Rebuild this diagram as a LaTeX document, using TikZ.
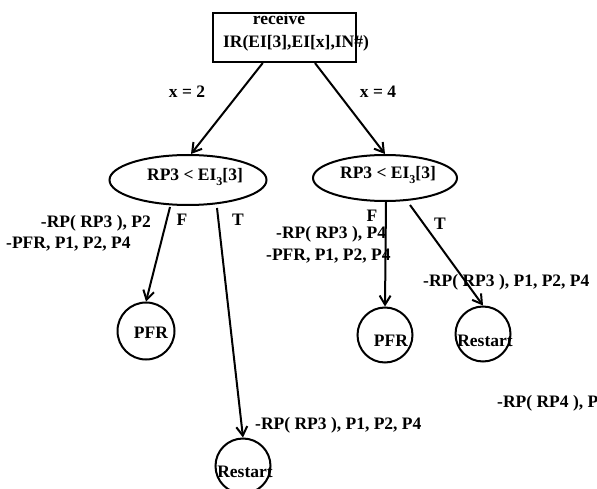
\documentclass[tikz,border=0pt]{standalone}
\usepackage{fontspec}
\setmainfont{Liberation Serif}
\usetikzlibrary{arrows.meta,shapes.geometric,calc}
\newcommand{\subthree}{\raisebox{-5pt}{\fontsize{12}{12}\selectfont 3}}
\begin{document}
\begin{tikzpicture}[x=1pt,y=-1pt,
  txt/.style={font=\fontsize{17.5}{20}\selectfont\bfseries, inner sep=0pt},
  cond/.style={draw, ellipse, line width=2pt, inner sep=0pt},
  leaf/.style={draw, circle, line width=2pt, inner sep=0pt, minimum size=57pt},
  arc/.style={line width=2pt, -{Straight Barb[length=9pt,width=11pt,line width=2pt]}},
]
\useasboundingbox (0,0) rectangle (597,489);

% receiving box
\node[draw, line width=2pt, minimum width=143pt, minimum height=49pt, inner sep=0pt] (recv) at (284.5,37.5) {};
\node[txt] (recvA) at (279,19) {receive};
\node[txt] (recvB) at (296,43) {IR(EI[3],EI[x],IN\#)};

% decision ellipses
\node[cond, minimum width=157pt, minimum height=50pt] (condL) at (188,180) {};
\node[txt] (condLtxt) at (195,177) {RP3 < EI\subthree[3]};
\node[cond, minimum width=144pt, minimum height=46pt] (condR) at (385,178) {};
\node[txt] (condRtxt) at (388,175) {RP3 < EI\subthree[3]};

% leaves
\node[leaf] (pfrA) at (146,331) {};
\node[txt] (pfrAtxt) at (151,333) {PFR};
\node[leaf, minimum size=55pt] (rstA) at (243,466) {};
\node[txt] (rstAtxt) at (245,472) {Restart};
\node[leaf, minimum size=55pt] (pfrB) at (385,335) {};
\node[txt] (pfrBtxt) at (391,341) {PFR};
\node[leaf, minimum size=55pt] (rstB) at (483,334) {};
\node[txt] (rstBtxt) at (485,341) {Restart};

% connectors
\draw[arc] ($(recv.south west)!0.35!(recv.south east)$) -- ([xshift=3pt]condL.north);
\draw[arc] ($(recv.south west)!0.71!(recv.south east)$) -- (condR.north);
\draw[arc] ([xshift=-18pt,yshift=-1pt]condL.south) -- (pfrA.north);
\draw[arc] ([xshift=29pt,yshift=-2pt]condL.south) -- (rstA.north);
\draw[arc] ([xshift=1pt]condR.south) -- (pfrB.north);
\draw[arc] ([xshift=25pt,yshift=-3pt]condR.south) -- (rstB.north);

% branch labels
\node[txt] (lx2) at (187,92) {x = 2};
\node[txt] (lx4) at (378,92) {x = 4};
\node[txt] (lFL) at (182,220) {F};
\node[txt] (lTL) at (238,220) {T};
\node[txt] (lFR) at (372,216) {F};
\node[txt] (lTR) at (440,224) {T};

% actions
\node[txt, anchor=east] (aL1) at (151,223) {-RP( RP3 ), P2};
\node[txt, anchor=west] (aL2) at (6,244) {-PFR, P1, P2, P4};
\node[txt, anchor=west] (aR1) at (276,234) {-RP( RP3 ), P4};
\node[txt, anchor=west] (aR2) at (266,256) {-PFR, P1, P2, P4};
\node[txt, anchor=west] (aR3) at (423,282) {-RP( RP3 ), P1, P2, P4};
\node[txt, anchor=west] (aL3) at (255,425) {-RP( RP3 ), P1, P2, P4};
\node[txt, anchor=west] (aX) at (497,403) {-RP( RP4 ), P};
\end{tikzpicture}
\end{document}
